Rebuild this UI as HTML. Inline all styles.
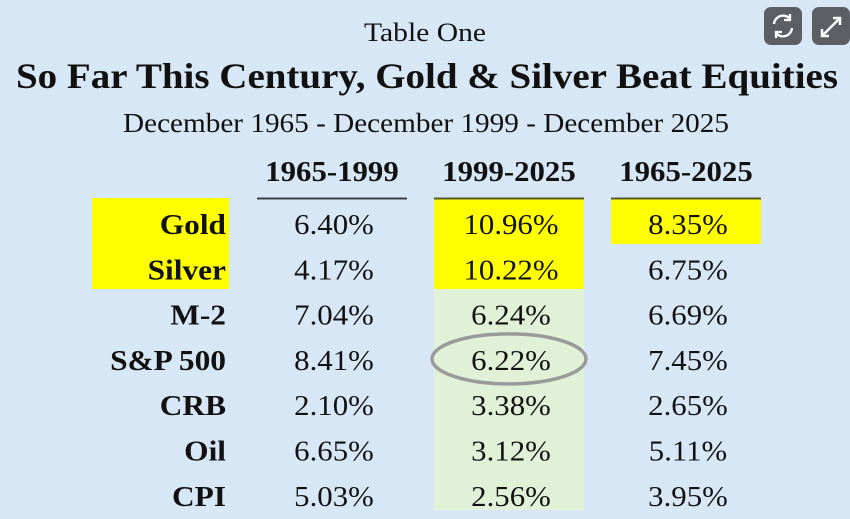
<!DOCTYPE html>
<html><head><meta charset="utf-8"><style>
html,body{margin:0;padding:0;background:#d8e7f6;}
svg{display:block;}
text{font-family:"Liberation Serif",serif;fill:#111;}
</style></head><body>
<svg id="s" width="850" height="519" viewBox="0 0 850 519">
<rect x="0" y="0" width="850" height="519" fill="#d8e7f6"/>
<text x="425" y="41" text-anchor="middle" font-size="26" textLength="122" lengthAdjust="spacingAndGlyphs">Table One</text>
<text x="427" y="88" text-anchor="middle" font-size="36" font-weight="bold" textLength="822" lengthAdjust="spacingAndGlyphs">So Far This Century, Gold &amp; Silver Beat Equities</text>
<text x="426" y="132" text-anchor="middle" font-size="27" textLength="606" lengthAdjust="spacingAndGlyphs">December 1965 - December 1999 - December 2025</text>
<g id="icons">
<rect x="764" y="7" width="38" height="38" rx="7" fill="#5b5e63"/>
<path d="M774 24 a9 9 0 0 1 16 -5 M792 28 a9 9 0 0 1 -16 5 M790 14 v6 h-6 M776 38 v-6 h6" fill="none" stroke="#fff" stroke-width="2.3"/>
<rect x="812" y="7" width="38" height="38" rx="7" fill="#5b5e63"/>
<path d="M822 36 L840 18 M833 18 H840 V25 M822 29 V36 H829" fill="none" stroke="#fff" stroke-width="2.5"/>
</g>
<g id="tbl"></g>
</svg>
<script>
const categories=["Gold","Silver","M-2","S&P 500","CRB","Oil","CPI"];
const periods=["1965-1999","1999-2025","1965-2025"];
const v1965_1999=["6.40%","4.17%","7.04%","8.41%","2.10%","6.65%","5.03%"];
const v1999_2025=["10.96%","10.22%","6.24%","6.22%","3.38%","3.12%","2.56%"];
const v1965_2025=["8.35%","6.75%","6.69%","7.45%","2.65%","5.11%","3.95%"];
const NS="http://www.w3.org/2000/svg";
const g=document.getElementById('tbl');
const cols=[332,509,686], rowY=i=>224+i*45.3, colW=150, labelX=226;
function mk(t,a){const e=document.createElementNS(NS,t);for(const k in a)e.setAttribute(k,a[k]);g.appendChild(e);return e;}
function stretch(e,f){const w=e.getComputedTextLength();e.setAttribute('textLength',(w*f).toFixed(1));e.setAttribute('lengthAdjust','spacingAndGlyphs');}
let r;
r=mk('rect',{x:92,y:198,width:137,height:91,fill:"#ffff00"});

r=mk('rect',{x:cols[1]-75,y:198,width:colW,height:91,fill:"#ffff00"});

r=mk('rect',{x:cols[1]-75,y:289,width:colW,height:221,fill:"#e1f1d8"});

r=mk('rect',{x:cols[2]-75,y:198,width:colW,height:46,fill:"#ffff00"});

const series=[v1965_1999,v1999_2025,v1965_2025];
const ulc=["#3a3f45","#5a5a2a","#5a5a2a"];
periods.forEach((p,j)=>{
 const t=mk('text',{x:cols[j],y:181,"text-anchor":"middle","font-size":"28","font-weight":"bold"});t.textContent=p;
 
 stretch(t,1.1);
 const l=mk('rect',{x:cols[j]-75,y:197.5,width:colW,height:2,fill:ulc[j]});
 
});
categories.forEach((c,i)=>{
 const y=rowY(i)+10;
 const t=mk('text',{x:labelX,y:y,"text-anchor":"end","font-size":"28","font-weight":"bold"});t.textContent=c;
 
 stretch(t,1.12);
 series.forEach((s,j)=>{
  const v=mk('text',{x:cols[j]+2,y:y,"text-anchor":"middle","font-size":"28",fill:"#222"});v.textContent=s[i];
  
  stretch(v,1.1);
 });
});
const ci=categories.indexOf("S&P 500");
const el=mk('ellipse',{cx:cols[1],cy:rowY(ci)-1,rx:77,ry:25,fill:"none",stroke:"#9a9a9a","stroke-width":"3.5"});


</script>
</body></html>
